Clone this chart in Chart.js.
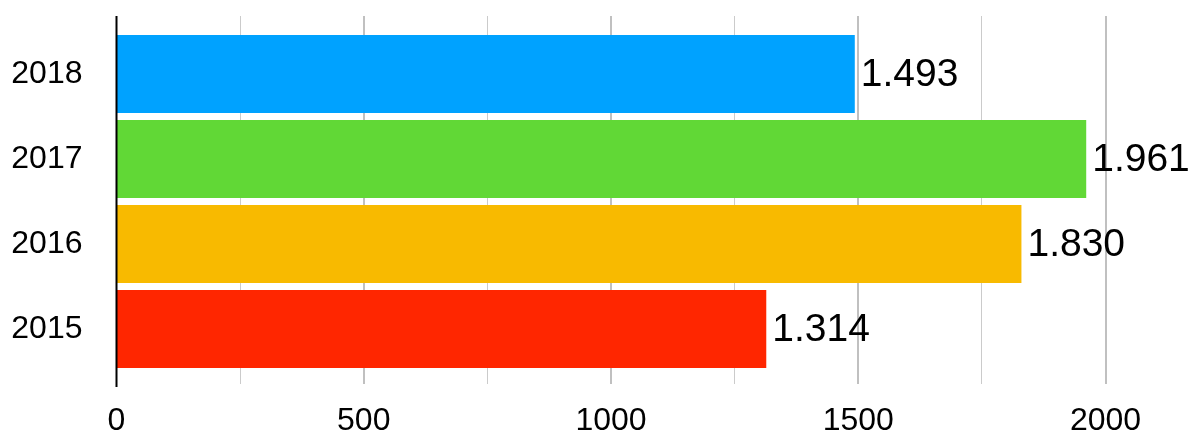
<!DOCTYPE html>
<html>
<head>
<meta charset="utf-8">
<script src="https://cdn.jsdelivr.net/npm/chart.js@4/dist/chart.umd.min.js"></script>
<style>
  html, body { margin: 0; padding: 0; background: #fff; }
  #wrap { width: 1199px; height: 430px; }
</style>
</head>
<body>
<div id="wrap"><canvas id="c" width="1199" height="430"></canvas></div>
<script>
const categories = ['2018', '2017', '2016', '2015'];
const values = [1493, 1961, 1830, 1314];
const barColors = ['#00A2FF', '#61D836', '#F8BA00', '#FF2600'];
const xMin = 0;
const xMax = 2000;
const xStep = 250;
const xLabelStep = 500;

const FONT = '"Liberation Sans", Arial, Helvetica, sans-serif';

function formatDE(v) {
  return String(v).replace(/\B(?=(\d{3})+(?!\d))/g, '.');
}

const decoPlugin = {
  id: 'deco',
  beforeDatasetsDraw(chart) {
    const { ctx, chartArea, scales: { x } } = chart;
    ctx.save();
    x.ticks.forEach(t => {
      if (t.value === xMin) return;
      const major = t.value % xLabelStep === 0;
      let px = x.getPixelForValue(t.value);
      ctx.lineWidth = major ? 2 : 1;
      ctx.strokeStyle = major ? '#c0c0c0' : '#cbcbcb';
      px = major ? Math.round(px) : Math.floor(px) + 0.5;
      ctx.beginPath();
      ctx.moveTo(px, chartArea.top - 15.5);
      ctx.lineTo(px, chartArea.bottom + 12.5);
      ctx.stroke();
    });
    ctx.restore();
  },
  afterDatasetsDraw(chart) {
    const { ctx, chartArea, scales: { x } } = chart;
    ctx.save();
    // axis line
    const x0 = Math.round(x.getPixelForValue(xMin)) - 0.5;
    ctx.strokeStyle = '#000';
    ctx.lineWidth = 2;
    ctx.beginPath();
    ctx.moveTo(x0, chartArea.top - 15.5);
    ctx.lineTo(x0, chartArea.bottom + 15.5);
    ctx.stroke();
    // value labels
    const meta = chart.getDatasetMeta(0);
    ctx.fillStyle = '#000';
    ctx.font = '39px ' + FONT;
    ctx.textAlign = 'left';
    ctx.textBaseline = 'middle';
    meta.data.forEach((el, i) => {
      ctx.fillText(formatDE(values[i]), el.x + 6, el.y + 1);
    });
    ctx.restore();
  }
};

new Chart(document.getElementById('c'), {
  type: 'bar',
  data: {
    labels: categories,
    datasets: [{
      data: values,
      backgroundColor: barColors,
      borderWidth: 0,
      barPercentage: 0.915,
      categoryPercentage: 1
    }]
  },
  options: {
    indexAxis: 'y',
    responsive: false,
    animation: false,
    devicePixelRatio: 1,
    layout: { padding: { top: 31.5, right: 93.5, left: 0, bottom: 0 } },
    plugins: { legend: { display: false }, tooltip: { enabled: false } },
    scales: {
      x: {
        type: 'linear',
        min: xMin,
        max: xMax,
        grid: { display: false, drawTicks: false },
        border: { display: false },
        ticks: {
          stepSize: xStep,
          autoSkip: false,
          maxRotation: 0,
          padding: 30,
          color: '#000',
          font: { size: 32, family: FONT },
          callback: v => (v % xLabelStep === 0 ? String(v) : '')
        },
        afterFit: s => { s.height = 58.5; s.paddingLeft = 0; s.paddingRight = 0; }
      },
      y: {
        type: 'category',
        grid: { display: false, drawTicks: false },
        border: { display: false },
        ticks: {
          padding: 34,
          color: '#000',
          font: { size: 32, family: FONT }
        },
        afterFit: s => { s.width = 116.5; s.paddingTop = 0; s.paddingBottom = 0; }
      }
    }
  },
  plugins: [decoPlugin]
});
</script>
</body>
</html>
